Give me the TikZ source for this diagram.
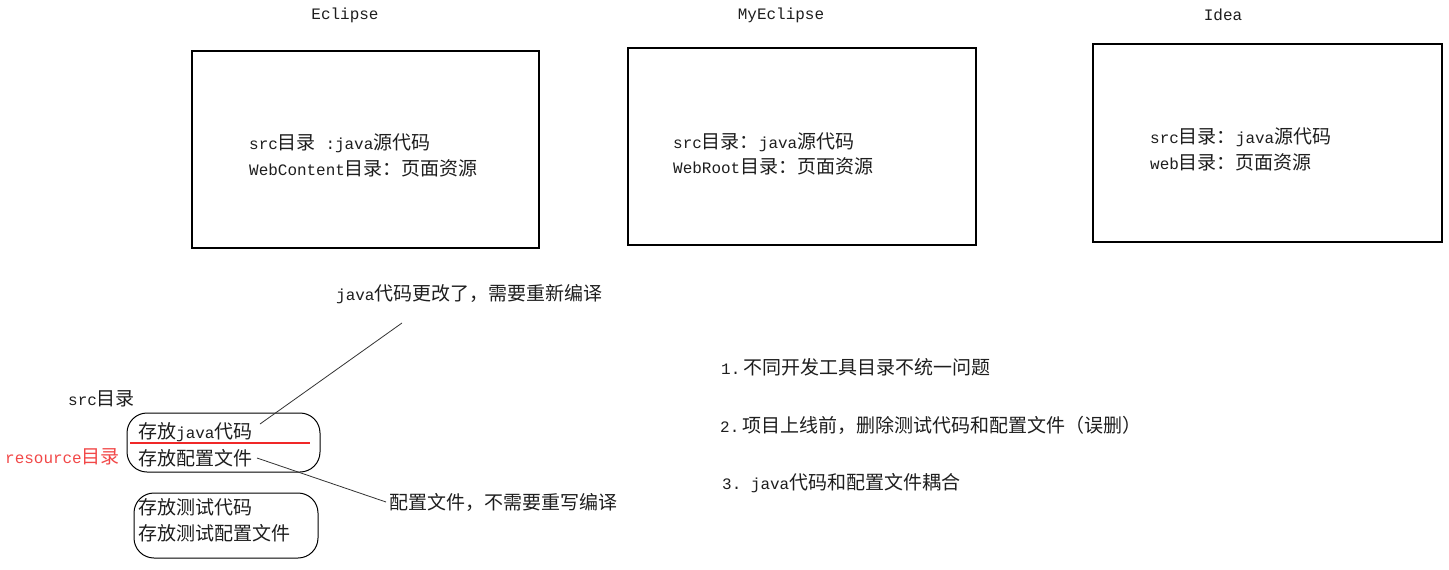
\documentclass[tikz,border=0pt]{standalone}
\usepackage{fontspec}
\setmainfont{Liberation Mono}[Scale=0.84]
\newfontfamily\zhfont{Noto Sans CJK SC}
\newcommand\zh[1]{{\zhfont #1}}
\definecolor{txt}{HTML}{1E1E1E}
\definecolor{redtxt}{HTML}{F24848}
\definecolor{redline}{HTML}{F02828}
\begin{document}
\begin{tikzpicture}[x=1pt,y=-1pt,
  lbl/.style={inner sep=0pt, anchor=west, text=txt, font=\fontsize{19}{24}\selectfont},
  ttl/.style={inner sep=0pt, anchor=center, text=txt, font=\fontsize{19}{24}\selectfont},
  tool/.style={draw=black, line width=1.3pt},
  rbox/.style={draw=black, line width=1pt, rounded corners=20pt},
  conn/.style={draw=black!80, line width=0.8pt}]
\useasboundingbox (0,0) rectangle (1449,570);
\fill[white] (0,0) rectangle (1449,570);

% tool boxes
\draw[tool] (192,51) rectangle (539,248);
\draw[tool] (628,48) rectangle (976,245);
\draw[tool] (1093,44) rectangle (1442,242);

\node[ttl] (t1) at (345,15) {Eclipse};
\node[ttl] (t2) at (781,15) {MyEclipse};
\node[ttl] (t3) at (1223,15) {Idea};

\node[lbl] (e1) at (249,143) {src\zh{目录}\ :java\zh{源代码}};
\node[lbl] (e2) at (249,168) {WebContent\zh{目录：页面资源}};
\node[lbl] (m1) at (673,142) {src\zh{目录：}java\zh{源代码}};
\node[lbl] (m2) at (673,166) {WebRoot\zh{目录：页面资源}};
\node[lbl] (i1) at (1150,137) {src\zh{目录：}java\zh{源代码}};
\node[lbl] (i2) at (1150,162) {web\zh{目录：页面资源}};

% bottom left
\node[lbl] (src) at (68,399) {src\zh{目录}};
\node[lbl, text=redtxt] (res) at (5,457) {resource\zh{目录}};
\draw[rbox] (127,413) rectangle (320,472);
\draw[color=redline, line width=1.2pt] (130,443) -- (310,443);
\node[lbl] (a1) at (138,432) {\zh{存放}java\zh{代码}};
\node[lbl] (a2) at (138,458) {\zh{存放配置文件}};
\draw[rbox] (134,493) rectangle (318,558);
\node[lbl] (b1) at (138,507) {\zh{存放测试代码}};
\node[lbl] (b2) at (138,533) {\zh{存放测试配置文件}};

% annotations
\node[lbl] (n1) at (336,294) {java\zh{代码更改了，需要重新编译}};
\node[lbl] (n2) at (389,502) {\zh{配置文件，不需要重写编译}};
\coordinate (c1s) at (260,424);
\coordinate (c1e) at (402,323);
\coordinate (c2s) at (257,458);
\coordinate (c2e) at (386,502);
\draw[conn] (c1s) -- (c1e);
\draw[conn] (c2s) -- (c2e);

% list
\node[lbl] (l1) at (721,367) {1.\,\zh{不同开发工具目录不统一问题}};
\node[lbl] (l2) at (720,425) {2.\,\zh{项目上线前，删除测试代码和配置文件（误删）}};
\node[lbl] (l3) at (722,483) {3.\ java\zh{代码和配置文件耦合}};
\end{tikzpicture}
\end{document}
